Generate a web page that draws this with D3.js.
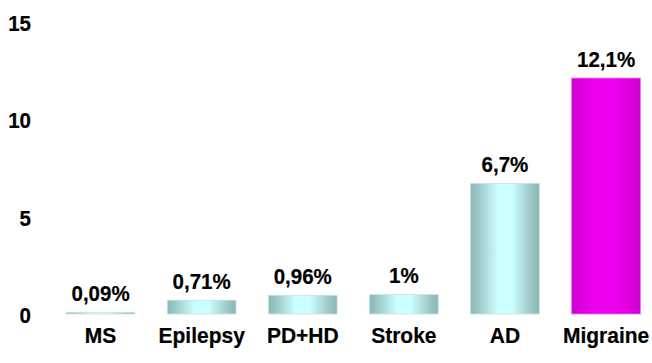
<!DOCTYPE html>
<html>
<head>
<meta charset="utf-8">
<script src="https://cdn.jsdelivr.net/npm/d3@7"></script>
<style>
  html, body { margin: 0; padding: 0; background: #ffffff; }
  svg { display: block; }
  text { font-family: "Liberation Sans", Arial, sans-serif; font-weight: bold; fill: #000; }
</style>
</head>
<body>
<svg id="chart" width="652" height="363"></svg>
<script>
// Prevalence by disorder (%)
const categories = ["MS", "Epilepsy", "PD+HD", "Stroke", "AD", "Migraine"];
const values = [0.09, 0.71, 0.96, 1, 6.7, 12.1];
const valueLabels = ["0,09%", "0,71%", "0,96%", "1%", "6,7%", "12,1%"];
const yTicks = [0, 5, 10, 15];
const highlight = "Migraine";

const svg = d3.select("#chart");
const textStretch = 1.08;   // slightly tall lettering

const x = d3.scaleBand()
  .domain(categories)
  .range([50, 656.6])
  .paddingInner(0.32)
  .paddingOuter(0.16);

const y = d3.scaleLinear()
  .domain([0, 15])
  .range([314, 21.5]);

// Cylindrical shading for the bars
const defs = svg.append("defs");
const teal = defs.append("linearGradient").attr("id", "tealGrad")
  .attr("x1", "0%").attr("x2", "100%").attr("y1", "0%").attr("y2", "0%");
[["0%", "#8cb8b8"], ["12%", "#9cc8c8"], ["40%", "#ccffff"], ["60%", "#ccffff"], ["88%", "#9cc6c5"], ["100%", "#8cb6b5"]]
  .forEach(([o, c]) => teal.append("stop").attr("offset", o).attr("stop-color", c));
const mag = defs.append("linearGradient").attr("id", "magGrad")
  .attr("x1", "0%").attr("x2", "100%").attr("y1", "0%").attr("y2", "0%");
[["0%", "#cc00cc"], ["20%", "#e400e4"], ["45%", "#f000f0"], ["60%", "#ee00ee"], ["85%", "#dd00dd"], ["100%", "#cc00d0"]]
  .forEach(([o, c]) => mag.append("stop").attr("offset", o).attr("stop-color", c));

function styleLabel(sel, size) {
  sel.style("font-size", size + "px")
    .style("font-family", "'Liberation Sans', Arial, sans-serif")
    .style("font-weight", "bold")
    .attr("fill", "#000")
    .attr("stroke", "#000")
    .attr("stroke-width", 0.2);
}

// Y axis labels (no axis line or ticks)
const yAxis = d3.axisLeft(y).tickValues(yTicks).tickSize(0).tickPadding(0);
const yG = svg.append("g").attr("transform", "translate(31,0)").call(yAxis);
yG.select(".domain").remove();
yG.selectAll("text")
  .attr("x", null).attr("y", null).attr("dy", null)
  .attr("transform", `translate(0,8.8) scale(1,${textStretch})`)
  .call(styleLabel, 20.5);

// X axis category labels
const xAxis = d3.axisBottom(x).tickSize(0).tickPadding(0);
const xG = svg.append("g").attr("transform", "translate(0,342.5)").call(xAxis);
xG.select(".domain").remove();
xG.selectAll("text")
  .attr("y", null).attr("dy", null)
  .attr("transform", `scale(1,${textStretch})`)
  .call(styleLabel, 21);

const data = categories.map((c, i) => ({ cat: c, value: values[i], label: valueLabels[i] }));

svg.append("g").selectAll("rect")
  .data(data)
  .join("rect")
  .attr("x", d => x(d.cat))
  .attr("y", d => y(d.value))
  .attr("width", x.bandwidth())
  .attr("height", d => y(0) - y(d.value))
  .attr("fill", d => d.cat === highlight ? "url(#magGrad)" : "url(#tealGrad)")
  .attr("stroke", d => d.cat === highlight ? "#f070f0" : "#c8e4e4")
  .attr("stroke-width", 0.8);

svg.append("g").selectAll("text")
  .data(data)
  .join("text")
  .attr("transform", d => `translate(${x(d.cat) + x.bandwidth() / 2},${y(d.value) - 11.5}) scale(1,${textStretch})`)
  .attr("text-anchor", "middle")
  .call(styleLabel, 20.5)
  .text(d => d.label);
</script>
</body>
</html>
